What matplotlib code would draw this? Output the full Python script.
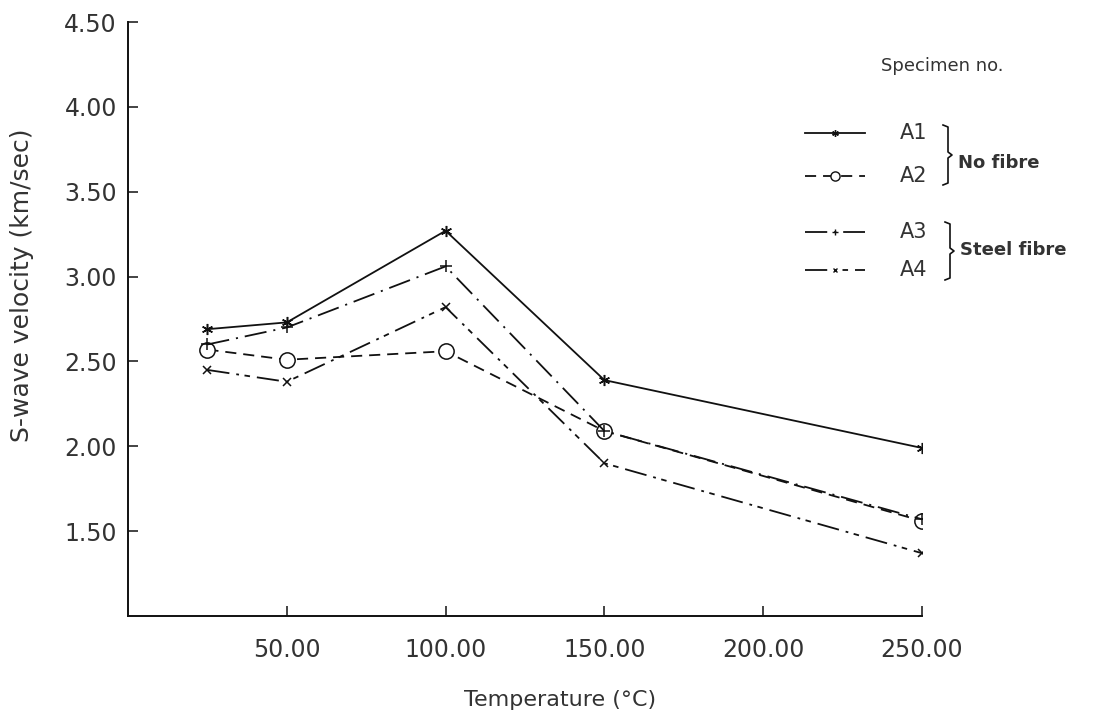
import matplotlib
matplotlib.use("Agg")
import matplotlib.pyplot as plt
from matplotlib.lines import Line2D

plt.rcParams['font.family'] = ['DejaVu Sans']
plt.rcParams['lines.scale_dashes'] = False

# ---- data ----
temperature = [25, 50, 100, 150, 250]
A1 = [2.69, 2.73, 3.27, 2.39, 1.99]
A2 = [2.57, 2.51, 2.56, 2.09, 1.56]
A3 = [2.60, 2.70, 3.06, 2.09, 1.57]
A4 = [2.45, 2.38, 2.82, 1.90, 1.37]
series_names = ["A1", "A2", "A3", "A4"]
xtick_vals = [50, 100, 150, 200, 250]
ytick_vals = [1.5, 2.0, 2.5, 3.0, 3.5, 4.0, 4.5]

W, H = 1109, 723
fig = plt.figure(figsize=(W / 100, H / 100), dpi=100)
ax = fig.add_axes([128 / W, 1 - 616 / H, (922 - 128) / W, (616 - 22) / H])

TXT = '#333333'
LC = '#111111'

styles = {
    "A1": dict(ls='-', marker=(6, 2, 0), ms=8, mfc='none'),
    "A2": dict(ls=(0, (8, 5)), marker='o', ms=11, mfc='white'),
    "A3": dict(ls=(0, (16, 5, 1.5, 5)), marker='+', ms=8, mfc='none'),
    "A4": dict(ls=(0, (16, 5, 2, 4, 4, 5)), marker='x', ms=6, mfc='none'),
}
data = {"A1": A1, "A2": A2, "A3": A3, "A4": A4}
for name in series_names:
    st = styles[name]
    ax.plot(temperature, data[name], color=LC, lw=1.3, ls=st['ls'],
            marker=st['marker'], ms=st['ms'], mfc=st['mfc'], mec=LC, mew=1.1)

ax.set_xlim(0, 250)
ax.set_ylim(1.0, 4.5)
ax.set_xticks(xtick_vals)
ax.set_xticklabels([f"{v:.2f}" for v in xtick_vals])
ax.set_yticks(ytick_vals)
ax.set_yticklabels([f"{v:.2f}" for v in ytick_vals])
for s in ['top', 'right']:
    ax.spines[s].set_visible(False)
for s in ['left', 'bottom']:
    ax.spines[s].set_linewidth(1.4)
    ax.spines[s].set_color(LC)
ax.tick_params(direction='in', length=7, width=1.1, colors=LC, labelcolor=TXT,
               labelsize=17)
ax.tick_params(axis='x', pad=16)
ax.tick_params(axis='y', pad=8)

def fx(px):
    return px / W

def fy(py):
    return 1 - py / H

fig.text(fx(22), fy(285), "S-wave velocity (km/sec)", rotation=90, ha='center',
         va='center', fontsize=18, color=TXT)
fig.text(fx(560), fy(700), "Temperature (°C)", ha='center', va='center',
         fontsize=16, color=TXT)

# ---- legend ----
fig.text(fx(942), fy(66), "Specimen no.", ha='center', va='center', fontsize=13,
         color=TXT)
leg_y = {"A1": 133, "A2": 176, "A3": 232, "A4": 270}
for name in series_names:
    st = styles[name]
    y = fy(leg_y[name])
    fig.add_artist(Line2D([fx(805), fx(865)], [y, y], transform=fig.transFigure,
                          color=LC, lw=1.3, ls=st['ls']))
    fig.add_artist(Line2D([fx(835)], [y], transform=fig.transFigure, color=LC,
                          marker=st['marker'], ms=st['ms'] * 0.6, mfc='white',
                          mec=LC, mew=1.0, ls='none'))
    fig.text(fx(900), y, name, ha='left', va='center', fontsize=15, color=TXT)

def brace(x0, ytop, ybot):
    mid = (ytop + ybot) / 2
    xs = [x0, x0 + 5, x0 + 5, x0 + 9, x0 + 5, x0 + 5, x0]
    ys = [ytop, ytop + 2, mid - 3, mid, mid + 3, ybot - 2, ybot]
    fig.add_artist(Line2D([fx(v) for v in xs], [fy(v) for v in ys],
                          transform=fig.transFigure, color=LC, lw=1.2))

brace(943, 125, 185)
brace(945, 222, 280)
fig.text(fx(958), fy(163), "No fibre", ha='left', va='center', fontsize=13,
         fontweight='bold', color=TXT)
fig.text(fx(960), fy(250), "Steel fibre", ha='left', va='center', fontsize=13,
         fontweight='bold', color=TXT)

fig.savefig("out.png", dpi=100)
